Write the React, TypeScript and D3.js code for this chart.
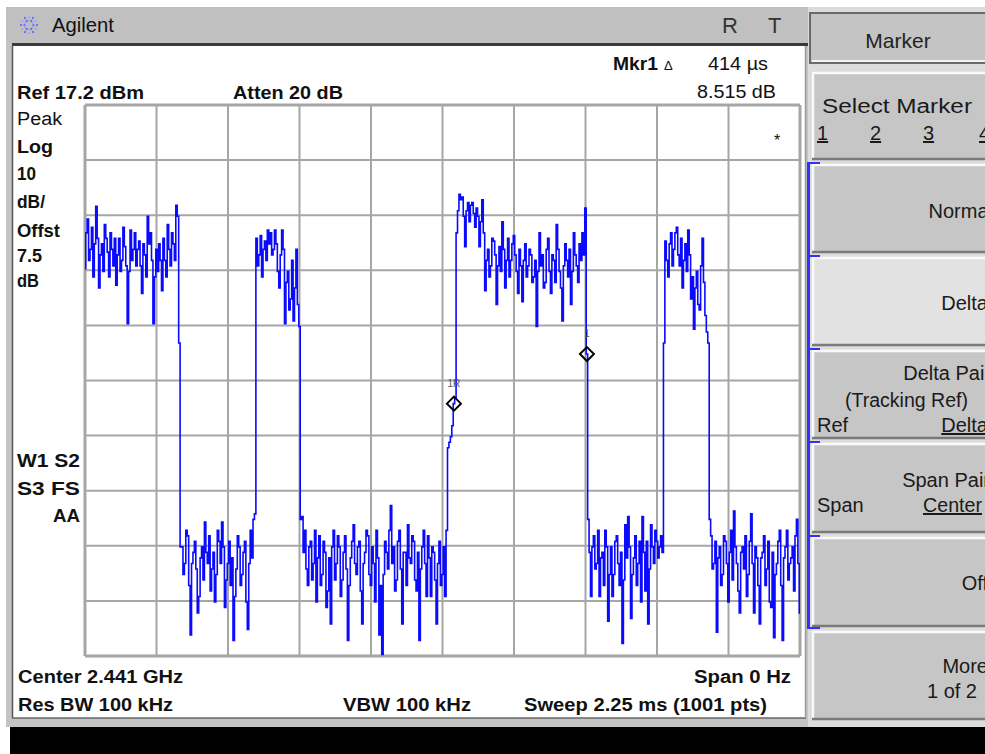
import React from 'react';
import * as d3 from 'd3';

// ---- instrument settings ----
const SWEEP_US = 2250; // Sweep 2.25 ms
const N_POINTS = 1001; // (1001 pts)
const STEP = 2; // values below are every 2nd sweep point
const REF_DBM = 17.2;
const DB_PER_DIV = 10;
const DIVS = 10;

// trace amplitude (dBm) at sweep points 0,2,4,...,1000
const traceDb = [
  -12.5, -6, -3.5, -11, -9, -5, -14, -8, -1.2, -7,
  -16, -10, -8, -13, -4.5, -7, -9.5, -14, -6, -9,
  -12, -7, -15.5, -10, -7, -13, -11, -5, -8.5, -12,
  -22.5, -13, -5.5, -11, -9, -6, -12, -9, -7.5, -12,
  -17, -8, -10, -14, -3, -8, -6, -11, -22.5, -14,
  -9, -13, -8, -11, -16.5, -7, -11, -14, -4.5, -9,
  -12, -6, -8, -11, -1, -3, -26, -63, -63, -68,
  -66, -60, -61, -70, -79, -66, -64, -62, -67, -75,
  -72, -65, -63, -69, -58.5, -64, -66, -61, -71, -67,
  -64, -73, -68, -60, -62, -66, -58.5, -63, -74, -69,
  -66, -62, -70, -65, -80, -72, -67, -61, -63, -70,
  -68, -64, -62, -73, -78, -66, -60, -65, -58, -57,
  -7, -12, -10, -6.5, -14, -9, -7.5, -11, -5.5, -8,
  -6, -10, -9, -5.5, -8, -13, -16, -10, -5.5, -9,
  -22.5, -15, -13, -20, -18, -11, -22, -16, -9, -19,
  -23, -58, -57.5, -64, -60, -67, -70, -63, -62, -69,
  -66, -60, -73, -65, -61, -70, -68, -62, -64, -74,
  -71, -65, -77, -63, -60, -69, -66, -61, -63, -72,
  -69, -64, -61, -67, -80, -70, -65, -62, -59, -66,
  -68, -63, -62, -71, -77, -66, -64, -60, -61, -68,
  -70, -63, -66, -73, -60, -65, -79, -70, -82.5, -68,
  -62, -64, -67, -60, -55.5, -66, -63, -71, -69, -62,
  -60, -67, -77, -64, -64, -70, -59, -65, -66, -61,
  -62, -69, -71, -64, -80, -67, -63, -60, -66, -72,
  -61, -65, -72, -63, -64, -69, -77, -66, -62, -70,
  -68, -63, -72, -60, -45, -44, -43, -41, -37, -36,
  -6, -2, 1, 0, 0.5, -3, -8.5, -2, -0.5, -4,
  -1, -0.5, -2.5, -5, -1.5, -3, -8.5, -4, 0, -6,
  -16.5, -11, -9, -14, -12, -7, -7.5, -10, -19, -12,
  -8.5, -13, -4, -9, -16, -11, -7, -14, -11, -8,
  -6.5, -10, -13, -17, -9, -12, -18.5, -11, -8, -14,
  -12, -9, -10, -15, -14, -11, -23, -13, -6, -12,
  -10, -16, -15, -9, -7, -13, -17, -10, -11, -15,
  -4.5, -9, -13, -16, -22, -12, -8, -11, -14, -9,
  -19, -13, -6, -10, -12, -15, -8, -11, -6, -10,
  -1.5, -28, -58, -64, -72, -63, -61, -67, -66, -60,
  -72, -65, -64, -70, -60, -63, -76.5, -68, -63, -72,
  -68, -62, -61, -66, -70, -64, -80.5, -69, -59, -65,
  -57.5, -63, -76, -68, -65, -61, -70, -66, -62, -73,
  -57.5, -64, -71, -62, -77, -67, -59, -63, -66, -60,
  -62, -65, -63, -61, -64, -26, -7.5, -11, -14, -8,
  -6, -12, -9, -6, -5, -10, -12, -7, -16, -11,
  -8, -13, -5.5, -10, -18, -14, -23.5, -16, -13, -19,
  -20, -12, -7, -15, -21, -24, -26, -58, -61, -67,
  -66, -62, -78.5, -65, -63, -70, -68, -61, -62, -66,
  -73, -64, -60, -69, -56.5, -63, -66, -71, -75, -64,
  -63, -67, -61, -72, -68, -62, -57, -66, -75, -63,
  -65, -70, -77, -65, -64, -61, -70, -67, -62, -73,
  -74, -64, -79.5, -68, -66, -62, -60, -70, -80, -65,
  -63, -60, -69, -66, -65, -63, -71, -61, -58, -66,
  -75,
];

// markers: label and index into traceDb
const markerLabels = ['1R', '1'];
const markerIndex = [258, 351];

// annotation texts
const mkrReadout = ['414 µs', '8.515 dB'];
const leftLabels = ['Peak', 'Log', '10', 'dB/', 'Offst', '7.5', 'dB'];
const bottomLabels = ['Center 2.441 GHz', 'Span 0 Hz', 'Res BW 100 kHz', 'VBW 100 kHz', 'Sweep 2.25 ms (1001 pts)'];

const FONT = '"Liberation Sans", Arial, Helvetica, sans-serif';

type TProps = {
  x: number; y: number; children: React.ReactNode; size?: number; bold?: boolean;
  w?: number; anchor?: 'start' | 'middle' | 'end'; fill?: string; underline?: boolean;
};
const T = ({ x, y, children, size = 18, bold = false, w, anchor = 'start', fill = '#111', underline = false }: TProps) => (
  <text
    x={x}
    y={y}
    fontFamily={FONT}
    fontSize={size}
    fontWeight={bold ? 700 : 400}
    textAnchor={anchor}
    fill={fill}
    textDecoration={underline ? 'underline' : undefined}
    {...(w ? { textLength: w, lengthAdjust: 'spacingAndGlyphs' } : {})}
  >
    {children}
  </text>
);

type Key = { y0: number; y1: number; fill: string; lines: { t: string; x: number; y: number; anchor?: 'start' | 'end' | 'middle'; u?: boolean; w?: number }[] };
const softkeys: Key[] = [
  { y0: 72, y1: 160, fill: '#c6c6c6', lines: [
    { t: 'Select Marker', x: 822, y: 113, w: 150 },
    { t: '1', x: 817, y: 140, u: true }, { t: '2', x: 870, y: 140, u: true },
    { t: '3', x: 923, y: 140, u: true }, { t: '4', x: 979, y: 140, u: true },
  ] },
  { y0: 164, y1: 253, fill: '#c6c6c6', lines: [{ t: 'Normal', x: 993, y: 218, anchor: 'end' }] },
  { y0: 257, y1: 346, fill: '#e2e2e2', lines: [{ t: 'Delta', x: 988, y: 310, anchor: 'end' }] },
  { y0: 350, y1: 439, fill: '#c6c6c6', lines: [
    { t: 'Delta Pair', x: 991, y: 380, anchor: 'end' },
    { t: '(Tracking Ref)', x: 845, y: 407, w: 123 },
    { t: 'Ref', x: 817, y: 432 },
    { t: 'Delta', x: 988, y: 432, anchor: 'end', u: true },
  ] },
  { y0: 443, y1: 533, fill: '#c6c6c6', lines: [
    { t: 'Span Pair', x: 990, y: 487, anchor: 'end' },
    { t: 'Span', x: 817, y: 512 },
    { t: 'Center', x: 923, y: 512, u: true, w: 59 },
  ] },
  { y0: 537, y1: 627, fill: '#c6c6c6', lines: [{ t: 'Off', x: 988, y: 590, anchor: 'end' }] },
  { y0: 631, y1: 720, fill: '#c6c6c6', lines: [
    { t: 'More', x: 988, y: 673, anchor: 'end' },
    { t: '1 of 2', x: 977, y: 698, anchor: 'end' },
  ] },
];

export default function App() {
  const X0 = 85, X1 = 800, Y0 = 105, Y1 = 656;
  const x = d3.scaleLinear().domain([0, SWEEP_US]).range([X0, X1]);
  const y = d3.scaleLinear().domain([REF_DBM - DB_PER_DIV * DIVS, REF_DBM]).range([Y1, Y0]);
  const tOf = (k: number) => (k * STEP * SWEEP_US) / (N_POINTS - 1);
  const line = d3.line<number>().x((_, i) => x(tOf(i))).y((d) => y(d)).curve(d3.curveStep);
  const vTicks = d3.range(0, DIVS + 1).map((i) => (i * SWEEP_US) / DIVS);
  const hTicks = d3.range(0, DIVS + 1).map((i) => REF_DBM - i * DB_PER_DIV);

  const logoRays = d3.range(0, 12).map((i) => (i * Math.PI) / 6);

  return (
    <div style={{ position: 'fixed', left: 0, top: 0 }}>
      <svg width={985} height={754} style={{ display: 'block', background: '#fff' }}>
        <defs>
          <clipPath id="plotClip">
            <rect x={X0} y={Y0 - 4} width={X1 - X0} height={Y1 - Y0 + 8} />
          </clipPath>
        </defs>
        {/* frame */}
        <rect x={0} y={0} width={985} height={754} fill="#fff" />
        <rect x={6} y={7} width={979} height={720} fill="#c4c4c4" />
        {/* title bar */}
        <rect x={6} y={7} width={802} height={36} fill="#c0c0c0" />
        <rect x={12} y={43} width={796} height={3} fill="#3a3a3a" />
        {/* main panel */}
        <rect x={12} y={46} width={794} height={672} fill="#ffffff" />
        <line x1={12.5} y1={46} x2={12.5} y2={718} stroke="#555" strokeWidth={1.5} />
        <line x1={12} y1={718} x2={806} y2={718} stroke="#666" strokeWidth={1.5} />
        <line x1={805.5} y1={46} x2={805.5} y2={718} stroke="#9a9a9a" strokeWidth={1.5} />
        {/* black bar */}
        <rect x={10} y={727} width={975} height={27} fill="#000" />

        {/* logo */}
        <g transform="translate(29,25)">
          {logoRays.map((a, i) => (
            <line key={i} x1={Math.cos(a) * 3.5} y1={Math.sin(a) * 3.5} x2={Math.cos(a) * 9.5} y2={Math.sin(a) * 9.5}
              stroke={i % 2 ? '#a0a0ff' : '#5a5aff'} strokeWidth={1.6} strokeDasharray="2,1.5" />
          ))}
        </g>
        <T x={52} y={32} size={20} w={62}>Agilent</T>
        <T x={722} y={33} size={22} fill="#333">R</T>
        <T x={768} y={33} size={22} fill="#333">T</T>

        {/* softkey column */}
        <rect x={808} y={7} width={177} height={720} fill="#dcdcdc" />
        <rect x={810} y={13} width={180} height={50} fill="#c4c4c4" stroke="#6a6a6a" strokeWidth={2} />
        <line x1={812} y1={61} x2={990} y2={61} stroke="#f2f2f2" strokeWidth={2} />
        <T x={898} y={48} size={21} anchor="middle" fill="#222">Marker</T>
        {softkeys.map((k, i) => (
          <g key={i}>
            <rect x={812} y={k.y0} width={180} height={k.y1 - k.y0} fill={k.fill} />
            <line x1={812} y1={k.y0 + 1} x2={992} y2={k.y0 + 1} stroke="#fafafa" strokeWidth={2.5} />
            <line x1={813} y1={k.y0} x2={813} y2={k.y1} stroke="#fafafa" strokeWidth={2.5} />
            <line x1={812} y1={k.y1 - 1} x2={992} y2={k.y1 - 1} stroke="#7a7a7a" strokeWidth={2.5} />
            {k.lines.map((l, j) => (
              <T key={j} x={l.x} y={l.y} size={20} anchor={l.anchor || 'start'} fill="#1a1a1a" underline={l.u} w={l.w}>
                {l.t}
              </T>
            ))}
          </g>
        ))}
        {/* blue bracket */}
        <line x1={808.5} y1={163} x2={808.5} y2={628} stroke="#3030ff" strokeWidth={3} />
        {[163, 256, 349, 442, 536, 628].map((yy) => (
          <line key={yy} x1={807} y1={yy} x2={820} y2={yy} stroke="#3030ff" strokeWidth={2} />
        ))}

        {/* graticule */}
        {vTicks.map((t, i) => (
          <line key={'v' + i} x1={x(t)} y1={Y0} x2={x(t)} y2={Y1} stroke="#a6a6a6" strokeWidth={i === 0 || i === DIVS ? 3 : 2} />
        ))}
        {hTicks.map((d, i) => (
          <line key={'h' + i} x1={X0} y1={y(d)} x2={X1} y2={y(d)} stroke="#a6a6a6" strokeWidth={i === 0 || i === DIVS ? 3 : 2} />
        ))}

        {/* trace */}
        <path d={line(traceDb) || ''} fill="none" stroke="#0a0aff" strokeWidth={1.6} clipPath="url(#plotClip)" />

        {/* markers */}
        {markerIndex.map((k, i) => {
          const mx = x(tOf(k));
          const my = y(traceDb[k]);
          return (
            <g key={i}>
              <path d={`M${mx - 7},${my} L${mx},${my - 7} L${mx + 7},${my} L${mx},${my + 7} Z`} fill="none" stroke="#000" strokeWidth={2} />
              <T x={mx} y={my - 17} size={10} anchor="middle" fill="#555">{markerLabels[i]}</T>
            </g>
          );
        })}

        {/* header readouts */}
        <T x={17} y={99} bold w={127}>Ref 17.2 dBm</T>
        <T x={233} y={99} bold w={110}>Atten 20 dB</T>
        <T x={613} y={70} bold w={45}>Mkr1</T>
        <T x={664} y={70} size={13}>Δ</T>
        <T x={708} y={70} w={60}>{mkrReadout[0]}</T>
        <T x={697} y={98} w={79}>{mkrReadout[1]}</T>
        <T x={777} y={146} size={16} anchor="middle">*</T>

        {/* left annotations */}
        <T x={17} y={125} w={45}>{leftLabels[0]}</T>
        <T x={17} y={153} bold w={36}>{leftLabels[1]}</T>
        <T x={17} y={180} bold w={19}>{leftLabels[2]}</T>
        <T x={17} y={208} bold w={28}>{leftLabels[3]}</T>
        <T x={17} y={237} bold w={43}>{leftLabels[4]}</T>
        <T x={17} y={262} bold w={25}>{leftLabels[5]}</T>
        <T x={17} y={287} bold w={22}>{leftLabels[6]}</T>
        <T x={17} y={467} bold w={63}>W1  S2</T>
        <T x={17} y={495} bold w={63}>S3  FS</T>
        <T x={53} y={522} bold w={27}>AA</T>

        {/* bottom annotations */}
        <T x={18} y={683} bold w={165}>{bottomLabels[0]}</T>
        <T x={694} y={683} bold w={97}>{bottomLabels[1]}</T>
        <T x={18} y={711} bold w={155}>{bottomLabels[2]}</T>
        <T x={343} y={711} bold w={128}>{bottomLabels[3]}</T>
        <T x={524} y={711} bold w={243}>{bottomLabels[4]}</T>
      </svg>
    </div>
  );
}
